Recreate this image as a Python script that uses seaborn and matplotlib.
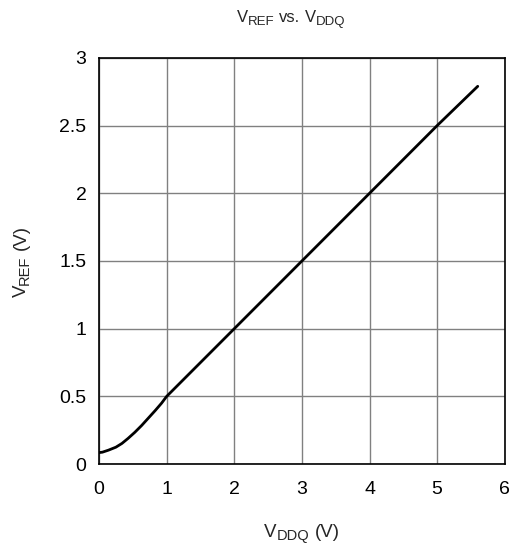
import matplotlib
matplotlib.use("Agg")
import matplotlib.pyplot as plt
import seaborn as sns
import pandas as pd

vddq = [0.0, 0.05, 0.14, 0.25, 0.34, 0.43, 0.53, 0.63, 0.73, 0.83, 0.925, 1.0, 1.1, 2.0, 3.0, 4.0, 5.0, 5.6]
vref = [0.085, 0.088, 0.103, 0.125, 0.153, 0.19, 0.235, 0.285, 0.34, 0.395, 0.45, 0.5, 0.55, 1.0, 1.5, 2.0, 2.5, 2.79]
xticks = [0, 1, 2, 3, 4, 5, 6]
yticks = [0, 0.5, 1, 1.5, 2, 2.5, 3]
yticklabels = ["0", "0.5", "1", "1.5", "2", "2.5", "3"]

sns.set_style("white")
plt.rcParams["font.family"] = ["Liberation Sans", "DejaVu Sans"]

df = pd.DataFrame({"VDDQ": vddq, "VREF": vref})

W, H, DPI = 5.13, 5.46, 100
fig = plt.figure(figsize=(W, H), dpi=DPI)
ax = fig.add_axes([0.193, 0.150, 0.791, 0.744])
sns.lineplot(data=df, x="VDDQ", y="VREF", ax=ax, color="black", linewidth=2, sort=True)
ax.set_xlim(0, 6)
ax.set_ylim(0, 3)
ax.set_xticks(xticks)
ax.set_xticklabels([str(t) for t in xticks])
ax.set_yticks(yticks)
ax.set_yticklabels(yticklabels)
ax.grid(True, color="#808080", linewidth=1)
ax.set_axisbelow(True)
for s in ax.spines.values():
    s.set_color("black")
    s.set_linewidth(1.2)
ax.tick_params(axis="x", length=0, labelsize=14, pad=12, colors="black")
ax.tick_params(axis="y", length=0, labelsize=14, pad=9, colors="black")
ax.set_xlabel("")
ax.set_ylabel("")

renderer = fig.canvas.get_renderer()
WPX, HPX = W * DPI, H * DPI


def compose(parts, cx, base, rotation=0):
    """parts: list of (text, fontsize, drop_px); '' text means a space of given size.
    cx: centre along the text direction (px), base: baseline position (px from top / left)."""
    items = []
    total = 0.0
    for txt, size, drop in parts:
        if txt == "":
            w = 0.278 * size * DPI / 72.0
            items.append((None, w, drop))
        else:
            t = fig.text(0, 0, txt, fontsize=size, ha="left", va="baseline",
                         rotation=rotation, rotation_mode="anchor")
            bb = t.get_window_extent(renderer)
            w = bb.width if rotation == 0 else bb.height
            items.append((t, w, drop))
        total += w
    pos = cx - total / 2.0
    for t, w, drop in items:
        if t is not None:
            if rotation == 0:
                x = pos
                y = base + drop
                t.set_position((x / WPX, 1 - y / HPX))
            else:
                # text runs upward; pos measured from bottom of figure
                x = base + drop
                y = pos
                t.set_position((x / WPX, y / HPX))
        pos += w


# title
compose([("V", 12, 0), ("REF", 9.5, 2.5), ("", 12, 0), ("vs.", 12, 0), ("", 12, 0),
         ("V", 12, 0), ("DDQ", 9.5, 2.5)], cx=291, base=22.5)
# x label
compose([("V", 13.5, 0), ("DDQ", 10.5, 3), ("", 13.5, 0), ("(V)", 13.5, 0)], cx=302, base=537)
# y label (rotated): centre along y measured from bottom
compose([("V", 13.5, 0), ("REF", 10.5, 3), ("", 13.5, 0), ("(V)", 13.5, 0)],
        cx=HPX - 261, base=25.5, rotation=90)

fig.savefig("out.png", dpi=DPI)
